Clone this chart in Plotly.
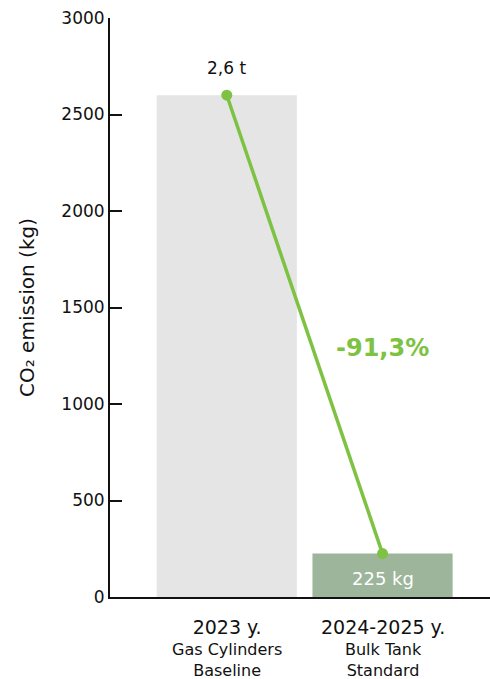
import plotly.graph_objects as go

# Emission data
positions = [0, 1]
years = ["2023 y.", "2024-2025 y."]
subtitles = ["Gas Cylinders<br>Baseline", "Bulk Tank<br>Standard"]
emissions_kg = [2600, 225]
bar_colors = ["#e5e5e5", "#9db59b"]
value_labels = ["2,6 t", "225 kg"]
change_label = "-91,3%"

FONT = "DejaVu Sans"
GREEN = "#7dc242"
INK = "#111111"

fig = go.Figure()

fig.add_trace(go.Bar(
    x=positions, y=emissions_kg, width=0.9,
    marker=dict(color=bar_colors, line=dict(width=0)),
    hoverinfo="skip", showlegend=False,
))

fig.add_trace(go.Scatter(
    x=positions, y=emissions_kg, mode="lines+markers",
    line=dict(color=GREEN, width=3.5),
    marker=dict(color=GREEN, size=11),
    showlegend=False,
))

# value above the first point
fig.add_annotation(x=positions[0], y=emissions_kg[0], text=value_labels[0],
                   showarrow=False, yshift=27,
                   font=dict(family=FONT, size=17, color=INK))
# value inside the second bar
fig.add_annotation(x=positions[1], y=0, text=value_labels[1],
                   showarrow=False, yanchor="middle", yshift=19,
                   font=dict(family=FONT, size=18, color="white"))
# percentage change
fig.add_annotation(x=positions[1], y=(emissions_kg[0] + emissions_kg[1]) / 2 - 120,
                   text="<b>" + change_label + "</b>", showarrow=False,
                   font=dict(family=FONT, size=24, color=GREEN))

# category labels (year + description)
for p, yr, sub in zip(positions, years, subtitles):
    fig.add_annotation(x=p, y=0, yref="y",
                       text="<span style='font-size:19px'>" + yr + "</span><br>" + sub,
                       showarrow=False, yanchor="top", yshift=-17,
                       font=dict(family=FONT, size=16, color=INK))

fig.update_layout(
    width=490, height=679,
    margin=dict(l=110, r=0, t=18, b=82),
    paper_bgcolor="white", plot_bgcolor="white",
    font=dict(family=FONT, color=INK),
    xaxis=dict(range=[-0.75, 1.69], showticklabels=False, ticks="",
               showgrid=False, zeroline=False, showline=True,
               linecolor=INK, linewidth=2, fixedrange=True),
    yaxis=dict(range=[0, 3000], tickvals=[0, 500, 1000, 1500, 2000, 2500, 3000],
               ticks="inside", ticklen=12, tickwidth=2, tickcolor=INK,
               showgrid=False, zeroline=False, showline=True,
               linecolor=INK, linewidth=2,
               tickfont=dict(family=FONT, size=17, color=INK),
               title=dict(text="CO₂ emission (kg)", standoff=21,
                          font=dict(family=FONT, size=20, color=INK)),
               fixedrange=True),
)

fig.write_html("out.html", config={"displayModeBar": False})
